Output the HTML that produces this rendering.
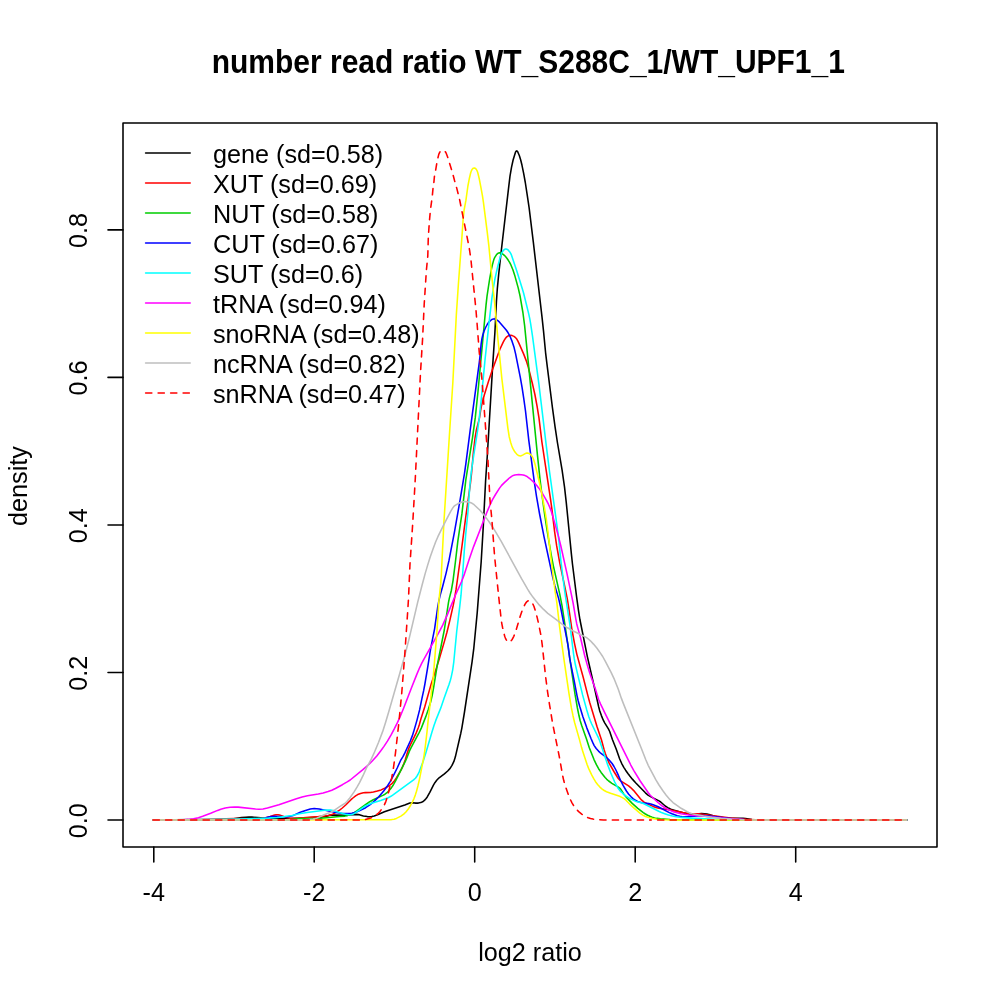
<!DOCTYPE html>
<html><head><meta charset="utf-8"><title>number read ratio</title>
<style>
html,body{margin:0;padding:0;background:#fff;}
svg{display:block;}
text{font-family:"Liberation Sans",Arial,Helvetica,sans-serif;fill:#000;}
</style></head>
<body>
<svg width="1000" height="1000" viewBox="0 0 1000 1000">
<rect x="0" y="0" width="1000" height="1000" fill="#fff"/>
<text transform="translate(528.3,72.8) scale(1,1.1)" font-size="30" font-weight="bold" text-anchor="middle">number read ratio WT_S288C_1/WT_UPF1_1</text>
<g fill="none" stroke="#000" stroke-width="1.5625" stroke-linecap="round">
<rect x="123" y="123" width="814" height="724" stroke-linejoin="round"/>
<path d="M153.8 847V862M314.2 847V862M474.7 847V862M635.2 847V862M795.7 847V862"/>
<path d="M123 820H108M123 672.5H108M123 525H108M123 377.4H108M123 229.9H108"/>
</g>
<g font-size="25.2" text-anchor="middle">
<text transform="translate(153.8,900.5) scale(1,1.05)">-4</text>
<text transform="translate(314.2,900.5) scale(1,1.05)">-2</text>
<text transform="translate(474.7,900.5) scale(1,1.05)">0</text>
<text transform="translate(635.2,900.5) scale(1,1.05)">2</text>
<text transform="translate(795.7,900.5) scale(1,1.05)">4</text>
<text transform="translate(86.6,820.7) rotate(-90) scale(1,1.05)">0.0</text>
<text transform="translate(86.6,673.2) rotate(-90) scale(1,1.05)">0.2</text>
<text transform="translate(86.6,525.7) rotate(-90) scale(1,1.05)">0.4</text>
<text transform="translate(86.6,378.1) rotate(-90) scale(1,1.05)">0.6</text>
<text transform="translate(86.6,230.6) rotate(-90) scale(1,1.05)">0.8</text>
<text transform="translate(530,960.6) scale(1,1.05)">log2 ratio</text>
<text transform="translate(26.9,486) rotate(-90) scale(1,1.05)">density</text>
</g>
<!--CURVES-->
<g fill="none" stroke-width="1.5625" stroke-linejoin="round" stroke-linecap="round">
<path stroke="#000" d="M153.1 820.0L199.6 820.0 222.1 819.7 230.6 819.2 241.5 817.6 245.9 817.2 248.9 817.0 251.9 817.1 264.4 818.1 270.4 818.4 281.4 818.6 291.9 818.5 307.9 817.8 320.3 817.1 325.3 816.5 326.8 816.2 329.6 815.3 331.6 815.1 334.6 815.0 345.6 815.2 355.6 814.4 358.5 814.6 363.4 815.9 367.3 816.6 369.8 816.8 371.8 816.5 374.2 815.9 377.5 814.8 384.4 811.8 388.1 810.4 404.8 805.1 409.9 803.1 411.4 802.9 412.4 802.8 415.9 803.1 418.3 803.1 420.8 802.6 422.6 801.8 423.8 800.9 424.9 799.9 425.9 798.8 427.1 797.2 429.8 792.4 433.3 785.3 434.9 782.7 436.7 780.3 439.1 777.8 444.4 773.9 447.7 771.0 450.1 768.4 452.0 765.4 453.9 761.4 455.3 757.1 460.8 733.2 461.8 728.3 464.5 712.0 472.1 661.6 473.7 649.2 477.2 612.9 481.2 561.5 483.3 526.1 485.6 480.7 487.3 455.7 492.6 366.9 494.9 332.5 496.4 302.0 497.3 289.0 498.7 274.1 500.9 254.2 508.5 188.6 510.0 176.2 511.5 167.4 513.1 160.0 515.4 152.4 516.1 151.2 516.7 150.9 517.3 151.2 517.8 152.0 519.4 155.7 520.7 160.0 522.0 165.3 523.7 173.6 525.3 182.5 527.2 194.8 529.1 207.7 533.3 241.9 542.1 317.9 543.5 330.9 545.6 352.8 546.9 363.7 552.4 407.3 555.1 427.2 557.5 443.0 562.1 470.1 564.5 486.9 566.2 501.8 571.4 554.1 572.4 563.5 576.6 596.8 578.5 610.6 579.9 619.5 587.3 656.3 594.2 686.5 598.6 706.5 599.6 710.4 601.4 715.6 603.3 720.2 604.7 722.8 608.4 728.8 609.7 731.5 612.4 739.5 616.1 748.8 619.6 758.7 621.6 763.3 623.8 767.3 625.6 770.2 627.9 773.5 630.0 776.3 632.6 779.4 635.6 782.7 645.4 792.8 648.0 795.1 651.0 796.9 659.0 800.9 660.7 802.0 665.2 806.0 667.7 807.6 669.9 808.8 671.7 809.6 674.1 810.3 684.7 813.3 687.6 814.0 689.6 814.3 691.6 814.4 699.0 813.7 701.5 813.6 704.5 813.8 707.0 814.1 709.0 814.4 714.7 816.2 717.1 816.7 721.1 817.4 725.0 818.0 730.0 818.4 743.0 818.3 745.5 818.6 751.9 819.6 757.9 819.9 763.9 820.0 906.9 820.0"/>
<path stroke="#f00" d="M153.1 820.0L198.1 819.5 235.1 818.6 252.1 818.7 258.1 818.6 261.6 818.3 264.5 817.9 270.3 816.4 274.6 815.0 276.1 814.7 277.1 814.7 278.1 814.7 279.5 815.0 284.2 816.7 287.6 817.7 289.5 818.1 292.0 818.3 297.5 818.2 306.0 817.6 318.5 816.6 328.4 815.5 330.3 815.1 333.1 813.9 336.6 812.0 339.6 810.1 342.3 808.0 345.7 805.0 351.0 799.7 352.9 798.0 355.6 795.9 357.7 794.6 360.5 793.5 363.4 792.8 365.4 792.6 370.4 792.5 373.4 792.1 377.3 791.1 381.1 789.9 385.2 788.0 389.5 785.5 392.2 783.3 394.5 780.7 396.2 778.2 399.5 772.6 401.2 769.6 402.5 766.9 403.9 763.6 405.2 759.9 407.5 752.2 408.8 748.4 410.6 744.3 416.1 733.1 418.2 728.0 419.3 724.7 421.2 717.9 424.7 707.0 431.2 683.9 436.7 667.3 439.6 657.7 444.4 641.4 446.8 632.7 449.8 620.6 453.1 605.9 454.8 597.1 456.1 589.2 460.1 560.5 465.5 518.8 470.4 483.7 471.5 473.7 473.4 452.3 475.0 438.4 476.3 430.5 479.5 417.9 480.7 410.0 481.3 406.6 482.5 401.7 484.3 395.0 488.6 381.1 492.4 369.8 499.8 349.5 503.1 342.3 504.3 340.1 505.7 338.0 506.7 336.9 507.9 336.0 509.3 335.5 510.7 335.3 512.2 335.6 514.0 336.4 515.2 337.3 516.5 338.7 517.8 340.9 519.1 343.6 523.7 354.1 526.4 361.1 528.3 367.3 532.7 384.8 534.9 394.5 537.1 406.3 539.0 418.2 541.9 442.0 550.7 500.3 552.0 509.8 554.6 531.6 556.6 545.4 559.8 563.2 565.3 589.1 567.2 598.4 568.6 606.8 571.9 629.5 574.5 643.3 576.8 654.1 583.2 677.2 588.0 696.1 589.8 702.8 596.9 726.3 601.5 740.0 604.1 749.7 605.3 753.5 607.4 759.1 609.4 763.7 613.9 771.5 617.3 777.0 618.5 778.7 619.5 779.8 621.0 781.1 628.6 785.9 630.9 787.8 633.7 790.6 640.4 798.7 641.7 800.2 644.1 802.1 647.1 803.8 653.0 806.4 655.9 807.4 658.8 808.2 667.7 809.6 682.9 812.5 687.8 813.3 691.8 813.7 698.8 813.9 702.3 814.2 730.5 818.0 736.5 818.6 746.0 819.4 755.4 819.8 766.4 820.0 906.9 820.0"/>
<path stroke="#00cd00" d="M153.1 820.0L254.6 819.9 288.6 819.6 292.6 819.4 300.5 818.6 314.0 818.5 320.5 818.2 329.0 817.5 339.5 816.5 344.9 816.1 346.9 815.7 348.8 815.1 351.1 814.2 353.8 812.9 356.8 811.0 366.5 804.0 369.8 801.7 373.3 799.8 382.8 795.4 385.0 794.2 387.0 792.7 389.1 790.6 391.3 787.9 393.3 785.0 395.7 780.6 405.3 761.4 406.7 758.2 409.4 751.2 411.1 747.6 419.1 732.6 421.3 728.1 425.7 716.9 428.3 709.4 430.7 701.7 432.1 695.9 433.6 687.5 437.3 664.8 444.3 630.0 448.5 602.3 449.3 598.4 451.4 590.2 453.0 580.8 455.4 562.0 457.9 540.6 461.9 513.9 465.8 480.2 472.6 437.2 475.3 417.4 478.0 391.5 486.0 305.4 487.0 296.4 488.4 287.0 489.8 278.2 491.5 268.8 492.4 264.9 493.8 259.6 494.8 257.3 496.4 254.8 497.8 253.4 498.7 253.0 499.6 252.8 500.5 252.9 501.9 253.5 503.5 254.6 505.3 256.3 506.9 258.2 508.3 260.3 509.6 262.4 510.8 264.7 512.9 269.7 514.6 274.9 518.2 287.9 520.0 295.7 522.9 312.5 524.6 325.4 537.5 455.7 540.1 480.1 542.1 496.0 544.5 513.3 546.9 529.1 549.5 544.9 551.4 555.8 553.3 565.6 559.7 593.9 562.0 605.6 565.5 628.4 569.9 659.1 575.1 694.7 577.4 708.0 579.0 715.8 580.2 720.7 581.7 725.4 586.5 739.1 589.3 747.7 591.1 752.3 593.9 759.3 596.4 764.7 598.6 768.7 601.1 772.4 605.1 777.5 606.8 779.3 608.7 781.0 611.9 783.3 615.3 785.4 618.4 787.1 620.0 788.3 620.9 789.5 623.5 793.7 626.3 797.2 632.2 803.4 637.8 808.4 643.3 812.6 645.4 814.0 647.6 815.2 649.8 816.3 652.2 817.2 654.6 817.9 657.0 818.4 660.5 818.8 670.0 819.5 682.0 819.8 907.0 820.0"/>
<path stroke="#00f" d="M153.1 820.0L233.6 819.8 251.1 819.7 259.6 819.5 262.5 819.0 267.7 817.2 270.7 816.5 274.6 816.4 285.1 816.8 287.6 816.7 290.1 816.3 293.4 815.4 300.3 812.3 305.5 810.5 310.3 809.1 312.3 808.8 314.2 808.6 316.7 808.7 319.2 809.0 335.9 812.4 341.3 813.3 346.3 813.6 349.3 813.5 351.8 813.2 353.7 812.8 355.7 812.3 359.8 810.6 365.6 807.7 370.2 804.6 374.4 801.1 379.0 796.5 383.3 791.6 386.8 786.8 390.3 781.3 393.9 774.7 397.2 768.0 400.5 760.7 403.1 756.4 404.9 752.9 410.3 741.0 412.3 735.9 413.7 731.6 417.0 720.1 419.6 709.9 422.0 698.2 423.7 690.4 424.9 684.0 427.4 669.2 430.6 648.9 434.6 628.8 437.5 608.5 438.7 601.6 440.0 595.8 442.7 586.2 446.1 573.1 449.0 560.4 454.4 532.4 460.1 499.9 464.5 473.3 465.9 463.4 470.2 430.2 479.3 362.3 480.0 356.3 481.1 344.4 481.9 338.9 482.8 335.0 484.0 331.2 485.6 327.5 487.2 324.5 488.6 322.4 490.4 320.6 492.4 319.2 493.8 318.9 494.8 319.0 496.1 319.5 497.8 320.6 499.3 321.9 504.5 327.9 506.4 330.3 508.1 332.8 510.2 336.7 512.1 341.4 514.1 347.6 515.6 353.9 520.3 377.4 522.1 387.7 523.7 398.1 525.5 411.0 528.8 440.3 534.3 481.9 536.5 496.3 539.5 513.5 544.0 536.6 552.5 576.2 554.9 585.9 558.6 598.4 560.3 605.7 563.9 624.3 567.6 642.9 568.4 647.9 569.7 658.3 570.9 664.7 574.1 680.4 577.0 695.6 578.1 700.5 579.7 706.3 582.9 716.8 586.9 728.1 590.9 738.3 592.9 742.9 594.2 745.6 596.2 748.5 598.5 751.1 600.7 753.2 604.7 756.1 608.2 759.0 610.2 761.2 612.1 763.5 614.0 766.5 615.9 770.0 617.6 773.6 620.6 780.5 623.1 785.4 626.4 791.0 628.7 794.2 631.1 796.8 633.3 798.8 635.4 800.2 637.6 801.4 639.5 802.1 641.9 802.7 643.8 803.1 648.8 803.6 650.8 804.0 653.1 804.8 658.2 806.8 669.3 812.6 672.0 813.8 677.2 815.7 679.7 816.3 681.6 816.5 684.6 816.7 688.1 816.6 691.6 816.4 699.1 815.6 704.1 815.6 712.0 816.2 728.4 818.3 734.9 819.0 744.4 819.6 755.3 819.9 906.8 820.0"/>
<path stroke="#0ff" d="M153.1 820.0L237.1 819.0 255.6 818.6 268.6 818.1 277.1 817.5 284.5 816.6 291.9 815.5 300.7 813.6 307.1 812.6 322.5 810.4 327.5 810.0 330.5 810.1 332.9 810.5 343.4 813.8 345.4 814.3 348.8 814.7 351.3 814.6 352.7 814.2 354.5 813.4 364.0 806.8 367.5 804.9 370.3 803.7 374.0 802.4 380.7 800.4 385.5 798.8 388.2 797.7 390.9 796.3 393.4 794.6 413.6 779.9 415.4 778.2 416.9 776.2 417.9 774.5 419.2 771.8 422.8 762.4 426.1 751.9 431.9 732.3 434.0 725.6 435.8 720.4 440.8 707.9 444.0 698.4 449.1 684.3 450.3 680.5 451.2 677.1 452.7 669.8 453.8 661.8 456.7 631.5 459.8 606.2 461.0 595.2 462.5 576.3 464.3 550.8 465.7 534.4 468.0 511.5 469.7 487.6 470.5 479.1 471.4 471.2 473.1 459.3 477.5 431.1 479.4 416.8 481.0 401.8 485.1 359.0 489.2 321.3 492.0 297.4 493.5 287.0 495.1 278.2 497.6 267.0 500.5 256.3 501.7 253.1 503.0 250.9 504.0 249.8 504.7 249.3 505.6 249.0 506.1 249.0 507.4 249.4 508.5 250.4 509.8 251.9 510.8 253.6 511.6 255.4 516.8 271.1 522.3 288.7 523.7 293.5 528.6 313.4 529.8 318.8 530.7 324.2 532.5 336.1 538.9 384.2 546.0 443.3 549.5 471.5 558.0 533.0 558.9 540.9 560.8 560.3 564.1 586.6 565.5 596.5 569.9 624.7 573.4 652.9 574.3 658.9 575.4 664.8 577.0 671.6 582.6 694.9 586.6 709.4 588.9 717.0 590.3 720.8 591.7 724.0 597.9 736.6 599.7 740.7 607.7 764.9 610.7 772.8 614.7 782.0 617.0 786.4 618.3 788.6 619.5 790.1 620.9 791.6 622.7 793.3 625.0 795.3 628.7 797.9 632.6 799.9 636.3 801.5 642.1 803.1 644.4 804.0 658.7 811.3 661.4 812.5 664.7 813.7 668.5 815.0 672.4 816.0 676.3 816.7 681.8 817.4 691.2 818.1 714.2 819.3 726.2 819.7 738.2 819.9 906.7 820.0"/>
<path stroke="#f0f" d="M153.1 820.0L183.1 819.7 188.1 819.4 193.5 818.7 198.4 817.7 202.7 816.3 210.7 813.3 217.6 810.4 220.8 809.2 225.2 808.1 230.1 807.3 234.6 807.0 238.1 807.1 255.5 809.0 259.0 809.2 263.0 809.0 267.4 808.1 278.9 804.8 296.4 798.7 302.1 797.0 307.5 795.7 318.3 793.9 323.2 792.9 328.1 791.6 331.8 790.2 335.4 788.5 342.4 784.7 347.2 781.9 350.2 780.0 362.6 769.9 369.3 764.0 372.5 760.8 376.8 755.9 380.8 750.8 384.0 746.4 387.6 740.9 391.1 734.9 394.4 728.7 397.3 722.9 400.2 716.5 403.8 707.7 411.7 687.2 416.7 674.6 419.8 667.3 421.8 663.2 424.1 658.8 438.5 633.1 442.7 625.1 447.6 614.1 455.4 595.2 461.6 581.5 464.4 574.1 469.2 559.3 473.6 546.6 487.0 512.0 489.9 505.2 492.5 499.7 495.5 494.5 499.2 488.6 501.6 485.4 504.4 482.6 509.6 477.8 512.0 476.1 513.3 475.4 514.8 475.0 516.7 474.7 518.7 474.6 521.2 474.7 523.2 475.0 525.1 475.6 526.5 476.2 528.1 477.3 530.5 479.2 534.8 483.3 536.8 485.5 538.7 487.9 542.1 492.8 546.6 500.6 548.4 504.2 549.8 507.4 551.2 511.1 552.7 515.9 558.4 536.1 560.9 546.3 567.0 573.6 571.4 594.7 573.2 603.5 575.7 618.3 576.7 623.7 577.7 627.6 580.3 636.7 584.6 655.2 587.1 664.4 589.4 672.1 591.0 676.8 595.4 689.0 598.6 699.5 600.6 704.1 604.7 712.7 630.8 765.0 633.7 770.3 640.2 781.0 648.1 792.5 649.6 794.5 651.3 796.3 657.9 802.5 660.2 804.4 663.0 806.5 666.0 808.3 668.6 809.7 671.4 810.9 674.2 811.9 681.0 813.7 685.9 814.6 690.9 815.3 701.8 816.0 723.2 818.2 734.2 819.1 744.7 819.7 755.6 820.0 906.6 820.0"/>
<path stroke="#ff0" d="M153.1 820.0L341.1 819.8 377.6 819.7 391.6 819.6 394.1 819.2 396.4 818.4 400.9 816.1 403.7 814.1 405.9 812.0 408.1 809.3 410.5 805.5 412.4 802.0 413.9 798.8 415.3 795.1 416.5 791.3 417.9 786.0 419.5 779.1 423.9 756.6 424.8 750.6 427.0 731.8 428.1 720.8 430.3 702.5 431.5 691.0 432.5 684.6 433.0 680.1 436.9 632.3 438.9 600.9 440.7 583.9 441.2 577.0 443.9 522.5 449.4 435.2 452.8 383.3 456.3 315.4 458.4 284.0 462.1 234.6 463.2 218.2 464.1 210.2 465.9 200.4 467.9 186.0 469.4 178.2 470.7 172.8 471.5 170.5 472.0 169.6 472.6 168.8 473.3 168.2 474.2 168.0 474.6 168.0 475.4 168.4 476.4 169.5 477.1 170.8 477.8 172.7 479.2 178.5 481.0 187.8 482.5 196.2 483.4 202.1 487.2 231.9 488.8 245.3 492.2 280.6 494.6 302.5 498.0 339.8 501.8 378.1 507.9 428.3 509.2 436.7 510.7 442.5 511.6 445.3 512.5 447.7 513.4 449.5 514.4 451.2 515.6 452.8 516.9 454.3 518.4 455.5 519.3 455.8 520.3 455.9 521.2 455.7 522.6 455.1 525.6 453.4 526.5 453.1 527.5 453.0 528.9 453.4 529.7 453.9 530.9 454.8 532.4 456.7 533.6 459.5 534.8 463.3 539.1 481.3 541.3 491.5 544.0 505.3 546.3 519.1 547.9 531.5 550.8 556.8 553.8 581.1 555.1 591.5 556.8 602.4 559.7 627.7 562.0 645.1 564.4 662.4 569.0 693.6 571.4 707.9 573.0 715.7 574.6 722.5 579.4 739.4 581.6 747.6 582.8 751.4 587.0 764.2 588.6 768.4 591.8 775.2 594.0 779.2 595.5 781.7 597.6 784.5 599.9 787.1 602.2 789.1 604.2 790.5 606.5 791.7 610.6 793.3 619.6 796.3 622.4 797.6 624.1 798.6 626.0 800.2 630.5 804.9 633.8 807.9 639.9 813.1 642.8 815.1 645.5 816.5 648.8 817.6 652.6 818.6 656.6 819.3 663.5 819.8 675.5 820.0 906.5 820.0"/>
<path stroke="#bebebe" d="M153.1 820.0L298.6 820.0 304.1 819.9 308.6 819.5 313.1 819.0 316.5 818.2 318.8 817.3 324.2 814.7 331.2 812.0 334.2 810.3 340.0 806.4 343.9 804.0 345.5 802.8 346.9 801.5 349.8 798.0 354.1 791.9 357.0 787.2 359.7 782.4 363.0 775.7 366.5 767.9 370.6 760.5 373.8 753.7 378.6 742.2 382.7 731.4 385.4 722.9 388.6 712.3 399.1 675.8 404.4 657.0 408.9 639.6 417.6 602.6 422.3 584.2 425.3 573.1 427.6 565.4 430.1 557.3 433.1 548.8 435.7 541.8 437.9 536.7 444.7 522.8 450.7 511.3 452.8 507.9 453.7 506.7 454.8 505.7 456.0 504.8 457.7 503.8 459.5 503.0 461.9 502.1 463.8 501.7 465.3 501.6 467.8 501.9 470.2 502.5 472.1 503.3 474.1 504.7 479.2 509.5 480.6 510.9 483.8 514.7 487.7 519.9 490.6 524.0 494.4 529.9 501.1 541.1 521.4 578.4 527.6 589.2 530.0 593.0 532.9 597.1 536.0 601.1 539.2 604.9 543.3 609.2 547.8 613.3 550.5 615.4 556.6 619.8 564.1 625.7 567.5 627.8 572.2 630.5 579.9 634.3 584.8 636.6 586.6 637.6 587.8 638.5 590.4 640.8 593.5 644.1 597.0 648.3 599.9 652.4 602.7 656.5 605.1 660.9 611.1 672.4 614.5 679.7 618.2 689.0 621.4 698.4 623.4 703.6 641.1 747.7 645.8 759.8 648.2 765.3 655.9 779.9 659.0 785.0 662.9 790.8 666.2 795.2 669.8 799.4 673.0 802.5 676.6 805.2 681.1 808.3 687.2 811.8 689.4 812.9 691.8 813.7 703.6 816.0 712.0 817.3 720.9 818.3 730.9 819.1 743.9 819.7 759.9 820.0 906.9 820.0"/>
<path stroke="#f00" stroke-dasharray="6.25 6.25" d="M153.1 820H360"/>
<path stroke="#f00" stroke-dasharray="6.25 6.25" stroke-dashoffset="6.900000000000006" d="M360.0 820.0L363.5 820.0 364.9 819.7 370.7 818.0 372.9 816.9 375.1 815.7 377.5 814.0 380.0 811.5 382.3 808.2 384.4 804.8 385.8 801.6 387.1 797.8 388.5 792.5 390.0 786.2 391.7 777.9 393.3 769.0 395.4 753.6 398.7 724.3 401.7 693.5 404.7 655.6 407.6 612.7 408.5 598.7 410.0 563.8 412.7 523.8 415.3 478.4 420.5 372.6 422.6 338.6 424.2 304.2 426.4 270.2 427.8 255.8 428.3 237.3 429.4 221.3 430.4 210.4 432.3 196.0 433.0 188.5 433.9 182.1 434.4 176.6 435.7 169.8 437.2 160.9 438.6 155.1 439.1 153.6 439.7 152.3 440.3 151.5 441.0 150.9 441.9 150.6 442.9 150.5 444.3 150.8 445.3 151.7 446.3 153.4 447.7 157.2 452.7 173.4 454.6 180.7 456.8 188.4 459.8 200.5 468.2 242.7 469.7 251.0 470.9 259.4 475.9 309.2 477.0 322.6 479.2 351.6 481.6 375.4 482.5 386.4 487.8 457.2 489.9 499.1 491.9 520.0 494.6 556.4 498.3 592.8 501.2 619.6 501.8 623.6 502.7 628.0 503.6 631.9 504.7 636.2 505.4 638.1 506.3 639.9 507.1 641.1 508.1 642.1 509.0 642.2 509.8 641.9 510.9 641.0 512.2 639.4 513.8 636.3 515.3 632.6 516.8 627.8 520.2 616.3 522.0 611.1 523.3 607.9 524.8 604.7 525.8 603.0 526.7 601.8 527.9 600.9 528.7 600.7 529.6 600.8 530.5 601.2 531.2 601.8 532.2 603.0 533.2 604.7 534.0 606.5 535.4 610.8 537.2 617.6 538.3 622.4 541.0 635.7 542.2 644.6 545.7 677.4 547.5 691.3 549.6 705.1 552.8 724.4 559.2 756.2 562.7 775.9 563.7 780.3 564.7 784.2 566.8 790.3 568.7 795.5 570.2 799.2 572.0 802.8 573.5 805.4 575.2 807.8 577.2 810.1 579.3 812.2 581.7 814.1 583.7 815.5 585.9 816.7 588.2 817.8 590.5 818.6 593.0 819.1 596.9 819.6 603.4 820.0 649.9 820.0"/>
<path stroke="#f00" stroke-dasharray="6.25 6.25" stroke-dashoffset="4.9" d="M650 820H907"/>
</g>
<!--/CURVES-->
<g font-size="25.2">
<text transform="translate(213,162.8) scale(1,1.05)">gene (sd=0.58)</text>
<text transform="translate(213,192.8) scale(1,1.05)">XUT (sd=0.69)</text>
<text transform="translate(213,222.8) scale(1,1.05)">NUT (sd=0.58)</text>
<text transform="translate(213,252.8) scale(1,1.05)">CUT (sd=0.67)</text>
<text transform="translate(213,282.8) scale(1,1.05)">SUT (sd=0.6)</text>
<text transform="translate(213,312.8) scale(1,1.05)">tRNA (sd=0.94)</text>
<text transform="translate(213,342.8) scale(1,1.05)">snoRNA (sd=0.48)</text>
<text transform="translate(213,372.8) scale(1,1.05)">ncRNA (sd=0.82)</text>
<text transform="translate(213,402.8) scale(1,1.05)">snRNA (sd=0.47)</text>
</g>
<g fill="none" stroke-width="1.5625" stroke-linecap="round">
<path d="M145.6 153H190.2" stroke="#000"/>
<path d="M145.6 183H190.2" stroke="#f00"/>
<path d="M145.6 213H190.2" stroke="#00cd00"/>
<path d="M145.6 243H190.2" stroke="#00f"/>
<path d="M145.6 273H190.2" stroke="#0ff"/>
<path d="M145.6 303H190.2" stroke="#f0f"/>
<path d="M145.6 333H190.2" stroke="#ff0"/>
<path d="M145.6 363H190.2" stroke="#bebebe"/>
<path d="M145.6 393H190.2" stroke="#f00" stroke-dasharray="6.25 6.25"/>
</g>
</svg>
</body></html>
